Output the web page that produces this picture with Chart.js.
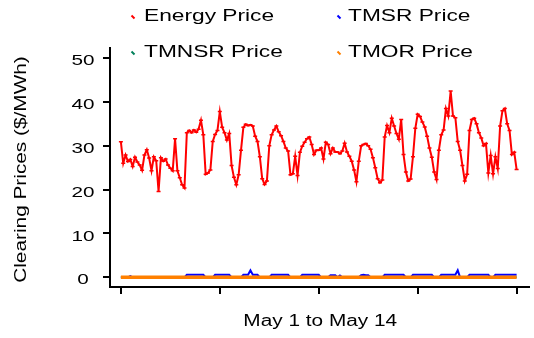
<!DOCTYPE html>
<html>
<head>
<meta charset="utf-8">
<title>Clearing Prices</title>
<script src="https://cdn.jsdelivr.net/npm/chart.js@4.4.1/dist/chart.umd.min.js"></script>
<style>
  html, body { margin: 0; padding: 0; background: #fff; }
  canvas { display: block; }
</style>
</head>
<body>
<canvas id="priceChart" width="534" height="338"></canvas>
<script>
'use strict';

// Two-hour samples from May 1 00:00 to May 15 00:00 ($/MWh)
const energyPrice = [
  30.9, 26.0, 27.9, 26.4, 26.9, 25.3, 27.4, 26.3, 25.6, 24.4, 27.9, 29.1,
  27.2, 24.3, 27.5, 26.6, 19.6, 27.3, 26.5, 27.0, 25.6, 24.9, 24.3, 31.6,
  24.3, 22.7, 21.1, 20.4, 33.0, 33.5, 33.0, 33.6, 33.1, 33.8, 35.8, 32.5,
  23.5, 23.8, 24.5, 31.0, 32.6, 33.5, 37.8, 34.2, 33.0, 31.3, 32.8, 25.5,
  22.8, 21.1, 23.4, 29.0, 34.2, 34.9, 34.6, 34.8, 34.5, 32.2, 31.0, 27.5,
  22.5, 21.2, 22.0, 30.0, 32.5, 33.6, 34.5, 33.2, 32.3, 31.0, 29.5, 28.8,
  23.4, 23.6, 27.6, 23.2, 28.5, 29.9, 30.8, 31.6, 32.0, 30.3, 28.0, 29.0,
  29.0, 29.5, 27.0, 30.8, 30.3, 28.2, 29.5, 28.6, 28.6, 28.2, 28.8, 30.6,
  28.6, 27.6, 26.5, 24.5, 21.8, 26.5, 30.0, 30.3, 30.5, 30.0, 29.2, 27.3,
  25.0, 22.5, 21.6, 22.2, 32.0, 34.6, 33.0, 36.3, 34.5, 32.8, 31.5, 36.0,
  28.0, 24.0, 22.0, 22.4, 27.5, 34.0, 37.2, 36.7, 35.4, 34.3, 32.2, 29.5,
  27.4, 24.0, 22.3, 29.0, 32.5, 33.6, 38.5, 36.8, 42.5, 36.8, 36.4, 31.0,
  29.0, 25.5, 22.0, 23.5, 33.5, 36.0, 36.3, 35.0, 33.0, 31.8, 30.0, 30.5,
  23.8, 27.8, 23.6, 27.5, 24.8, 34.5, 38.0, 38.5, 35.0, 33.5, 28.0, 28.5,
  24.6
];

const tmsrPrice = [
  0, 0, 0, 0, 0.3, 0, 0, 0, 0, 0, 0, 0,
  0, 0, 0, 0, 0, 0, 0, 0, 0, 0, 0, 0,
  0, 0, 0, 0, 0.6, 0.6, 0.6, 0.6, 0.6, 0.6, 0.6, 0.6,
  0, 0, 0, 0, 0.6, 0.6, 0.6, 0.6, 0.6, 0.6, 0.6, 0,
  0, 0, 0, 0, 0.6, 0.6, 0.6, 1.6, 0.6, 0.6, 0.6, 0,
  0, 0, 0, 0, 0.6, 0.6, 0.6, 0.6, 0.6, 0.6, 0.6, 0.6,
  0, 0, 0, 0, 0, 0.6, 0.6, 0.6, 0.6, 0.6, 0.6, 0.6,
  0.6, 0, 0, 0, 0, 0.5, 0.5, 0.5, 0, 0.4, 0, 0,
  0, 0, 0, 0, 0, 0, 0.5, 0.6, 0.5, 0.5, 0, 0,
  0, 0, 0, 0, 0.6, 0.6, 0.6, 0.6, 0.6, 0.6, 0.6, 0.6,
  0.6, 0, 0, 0, 0.6, 0.6, 0.6, 0.6, 0.6, 0.6, 0.6, 0.6,
  0.6, 0, 0, 0, 0.6, 0.6, 0.6, 0.6, 0.6, 0.6, 0.6, 1.6,
  0, 0, 0, 0, 0.6, 0.6, 0.6, 0.6, 0.6, 0.6, 0.6, 0.6,
  0.6, 0, 0, 0.6, 0.6, 0.6, 0.6, 0.6, 0.6, 0.6, 0.6, 0.6,
  0.6
];

// these two stay flat at zero, one value per day
const tmnsrPrice = [0, 0, 0, 0, 0, 0, 0, 0, 0, 0, 0, 0, 0, 0, 0];
const tmorPrice = [0, 0, 0, 0, 0, 0, 0, 0, 0, 0, 0, 0, 0, 0, 0];

const seriesNames = ['Energy Price', 'TMSR Price', 'TMNSR Price', 'TMOR Price'];
const seriesColors = ['#ff0000', '#0000ff', '#00805a', '#ff8000'];
const yTicks = [0, 10, 20, 30, 40, 50];
const xTicks = [0, 84, 168, 252, 336];
const xTitle = 'May 1 to May 14';
const yTitle = 'Clearing Prices ($/MWh)';

const toPoints = (values, stepHours) => values.map((v, i) => ({ x: i * stepHours, y: v }));

// text in this chart is set wide, so it is drawn here with a horizontal stretch
function wideText(ctx, text, x, y, size, stretch, align, angle) {
  ctx.save();
  ctx.font = size + 'px "Liberation Sans", Arial, sans-serif';
  ctx.fillStyle = '#000';
  ctx.textAlign = align;
  ctx.textBaseline = 'middle';
  ctx.translate(x, y);
  if (angle) ctx.rotate(angle);
  ctx.scale(stretch, 1);
  ctx.fillText(text, 0, 0);
  ctx.restore();
}

const chartText = {
  id: 'chartText',
  afterDraw(chart) {
    const ctx = chart.ctx;
    const area = chart.chartArea;
    const yScale = chart.scales.y;

    yScale.ticks.forEach(t => {
      wideText(ctx, String(t.value), 83, yScale.getPixelForValue(t.value) + 3, 15, 1.38, 'center');
    });
    wideText(ctx, xTitle, (area.left + area.right) / 2 + 1, 322, 16, 1.3, 'center');
    wideText(ctx, yTitle, 22, (area.top + area.bottom) / 2 + 2, 16, 1.3, 'center', -Math.PI / 2);

    // 2 x 2 legend above the plot
    const cols = [{ mark: 133, text: 144 }, { mark: 339, text: 348 }];
    const rows = [17, 53];
    chart.data.datasets.forEach((ds, i) => {
      const col = cols[i % 2];
      const y = rows[Math.floor(i / 2)];
      ctx.save();
      ctx.strokeStyle = ds.borderColor;
      ctx.lineWidth = 2;
      ctx.beginPath();
      ctx.moveTo(col.mark - 1.5, y - 1.5);
      ctx.lineTo(col.mark + 1.5, y + 1.5);
      ctx.stroke();
      ctx.restore();
      wideText(ctx, ds.label, col.text, y, 16, 1.42, 'left');
    });
  }
};

const axisGrid = {
  drawOnChartArea: false,
  drawTicks: true,
  tickLength: 7,
  color: '#000',
  lineWidth: 2
};

new Chart(document.getElementById('priceChart'), {
  type: 'line',
  data: {
    datasets: [
      {
        label: seriesNames[0],
        data: toPoints(energyPrice, 2),
        borderColor: seriesColors[0],
        backgroundColor: seriesColors[0],
        borderWidth: 2,
        pointStyle: 'line',
        pointRadius: 2,
        pointBorderWidth: 1.5,
        order: 3
      },
      {
        label: seriesNames[1],
        data: toPoints(tmsrPrice, 2),
        borderColor: seriesColors[1],
        borderWidth: 2,
        pointRadius: 0,
        order: 2
      },
      {
        label: seriesNames[2],
        data: toPoints(tmnsrPrice, 24),
        borderColor: seriesColors[2],
        borderWidth: 2,
        pointRadius: 0,
        order: 1
      },
      {
        label: seriesNames[3],
        data: toPoints(tmorPrice, 24),
        borderColor: seriesColors[3],
        borderWidth: 3.5,
        pointRadius: 0,
        order: 0
      }
    ]
  },
  options: {
    responsive: false,
    animation: false,
    events: [],
    layout: { padding: { top: 48, right: 1, left: 0, bottom: 0 } },
    elements: { line: { tension: 0 } },
    plugins: {
      legend: { display: false },
      tooltip: { enabled: false }
    },
    scales: {
      x: {
        type: 'linear',
        min: -9.24,
        max: 346.1,
        grid: axisGrid,
        border: { color: '#000', width: 2 },
        ticks: { display: false },
        afterBuildTicks: scale => { scale.ticks = xTicks.map(v => ({ value: v })); },
        afterFit: scale => { scale.height = 51; }
      },
      y: {
        type: 'linear',
        min: -2.2,
        max: 52.3,
        grid: axisGrid,
        border: { color: '#000', width: 2 },
        ticks: { display: false },
        afterBuildTicks: scale => { scale.ticks = yTicks.map(v => ({ value: v })); },
        afterFit: scale => { scale.width = 110; }
      }
    }
  },
  plugins: [chartText]
});
</script>
</body>
</html>
